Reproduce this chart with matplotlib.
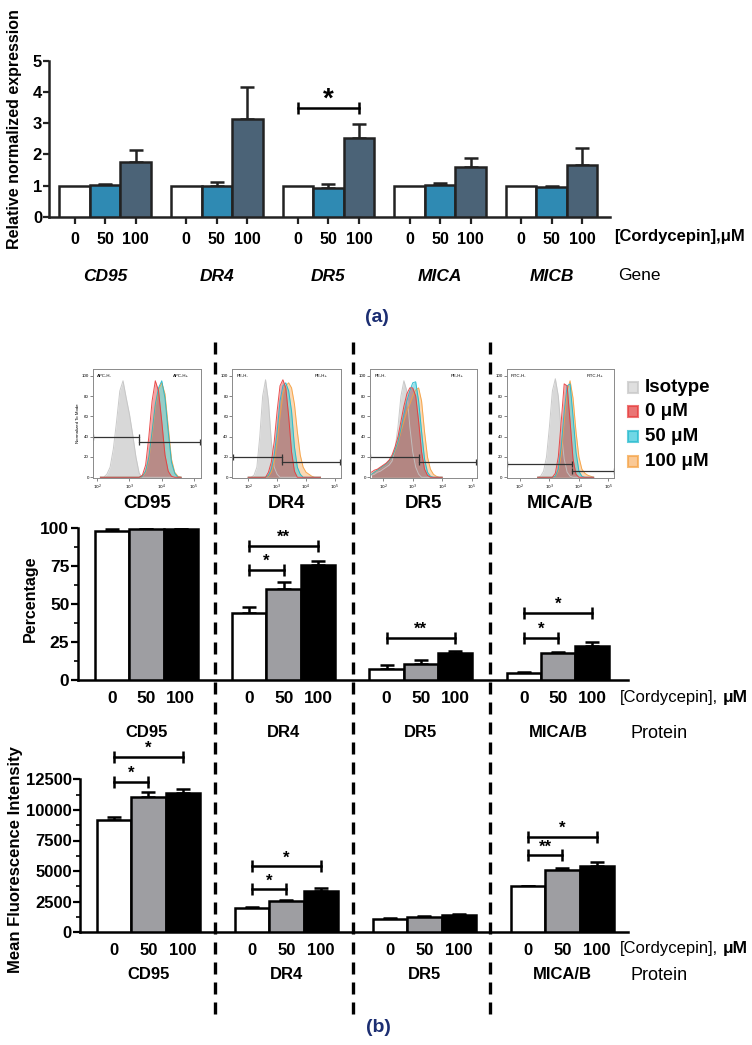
import matplotlib
matplotlib.use("Agg")
import matplotlib.pyplot as plt
from matplotlib.patches import Rectangle

plt.rcParams['font.family'] = ['Liberation Sans', 'DejaVu Sans']

W, H = 752, 1045

# ---- (a) qPCR data ----
doses = ["0", "50", "100"]
genes = ["CD95", "DR4", "DR5", "MICA", "MICB"]
gene_mean = [[1.0, 1.02, 1.75], [1.0, 1.0, 3.15], [1.0, 0.93, 2.52], [1.0, 1.03, 1.58], [1.0, 0.95, 1.67]]
gene_err = [[0, 0.02, 0.38], [0, 0.11, 1.0], [0, 0.13, 0.46], [0, 0.04, 0.32], [0, 0.02, 0.54]]
gene_sig = [(2, 0, 2, 3.5, "*")]  # group, bar i, bar j, height, label

# ---- (b) flow cytometry data ----
proteins = ["CD95", "DR4", "DR5", "MICA/B"]
pct_mean = [[98.5, 99.3, 99.3], [44, 60, 75.5], [7.5, 10.5, 18], [4.4, 17.6, 22.4]]
pct_err = [[1.2, 0.3, 0.3], [4.3, 4.8, 2.9], [2.5, 2.7, 1.2], [1.0, 0.9, 2.9]]
pct_sig = [(1, 0, 1, 72.5, "*"), (1, 0, 2, 88.3, "**"), (2, 0, 2, 27.9, "**"),
           (3, 0, 1, 27.9, "*"), (3, 0, 2, 44.4, "*")]
mfi_mean = [[9150, 11080, 11400], [2010, 2560, 3400], [1090, 1270, 1410], [3780, 5050, 5400]]
mfi_err = [[300, 360, 300], [40, 50, 190], [40, 60, 50], [30, 190, 330]]
mfi_sig = [(0, 0, 1, 12300, "*"), (0, 0, 2, 14350, "*"), (1, 0, 1, 3500, "*"),
           (1, 0, 2, 5400, "*"), (3, 0, 1, 6300, "**"), (3, 0, 2, 7800, "*")]

# histogram curves, x = log10 fluorescence, y = % of mode
cd95_x = [2.1, 2.2, 2.3, 2.4, 2.5, 2.6, 2.7, 2.8, 2.9, 3.0, 3.1, 3.2, 3.3, 3.4, 3.5, 3.6, 3.7, 3.8, 3.9, 4.0, 4.1, 4.2, 4.3, 4.4, 4.5, 4.6]
cd95_iso = [0, 0, 3, 10, 28, 55, 85, 95, 78, 62, 42, 20, 4, 0, 0, 0, 0, 0, 0, 0, 0, 0, 0, 0, 0, 0]
cd95_0 = [0, 0, 0, 0, 0, 0, 0, 0, 0, 0, 0, 0, 0, 2, 12, 40, 75, 95, 85, 55, 22, 6, 1, 0, 0, 0]
cd95_50 = [0, 0, 0, 0, 0, 0, 0, 0, 0, 0, 0, 0, 0, 1, 6, 20, 45, 72, 88, 95, 78, 45, 15, 4, 0, 0]
cd95_100 = [0, 0, 0, 0, 0, 0, 0, 0, 0, 0, 0, 0, 0, 1, 5, 18, 42, 70, 86, 93, 82, 50, 18, 5, 1, 0]

dr4_x = [2.0, 2.1, 2.2, 2.3, 2.4, 2.5, 2.6, 2.7, 2.8, 2.9, 3.0, 3.1, 3.2, 3.3, 3.4, 3.5, 3.6, 3.7, 3.8, 3.9, 4.0, 4.1, 4.2, 4.3, 4.4, 4.5]
dr4_iso = [0, 0, 2, 10, 40, 80, 96, 75, 35, 10, 3, 0, 0, 0, 0, 0, 0, 0, 0, 0, 0, 0, 0, 0, 0, 0]
dr4_0 = [0, 0, 0, 0, 0, 0, 0, 5, 15, 35, 65, 90, 96, 88, 60, 25, 6, 0, 0, 0, 0, 0, 0, 0, 0, 0]
dr4_50 = [0, 0, 0, 0, 0, 0, 0, 2, 8, 22, 45, 75, 90, 93, 85, 65, 30, 10, 3, 0, 0, 0, 0, 0, 0, 0]
dr4_100 = [0, 0, 0, 0, 0, 0, 0, 1, 5, 15, 35, 60, 82, 90, 93, 88, 72, 45, 22, 10, 5, 3, 1, 0, 0, 0]

dr5_x = [1.6, 1.7, 1.8, 1.9, 2.0, 2.1, 2.2, 2.3, 2.4, 2.5, 2.6, 2.7, 2.8, 2.9, 3.0, 3.1, 3.2, 3.3, 3.4, 3.5, 3.6, 3.7, 3.8, 3.9, 4.0]
dr5_iso = [2, 3, 5, 6, 8, 10, 12, 16, 28, 50, 80, 95, 85, 50, 25, 10, 3, 0, 0, 0, 0, 0, 0, 0, 0]
dr5_0 = [5, 7, 8, 10, 12, 14, 17, 22, 30, 40, 55, 70, 82, 88, 88, 80, 55, 25, 8, 2, 0, 0, 0, 0, 0]
dr5_50 = [3, 5, 7, 9, 11, 13, 16, 20, 27, 35, 48, 62, 75, 85, 93, 94, 75, 45, 18, 5, 1, 0, 0, 0, 0]
dr5_100 = [3, 5, 7, 9, 11, 13, 16, 20, 26, 34, 45, 55, 65, 72, 80, 86, 88, 75, 45, 20, 8, 3, 1, 0, 0]

mic_x = [2.6, 2.7, 2.8, 2.9, 3.0, 3.1, 3.2, 3.3, 3.4, 3.5, 3.6, 3.7, 3.8, 3.9, 4.0, 4.1, 4.2, 4.3, 4.4, 4.5]
mic_iso = [0, 1, 6, 20, 50, 85, 97, 80, 45, 18, 5, 1, 0, 0, 0, 0, 0, 0, 0, 0]
mic_0 = [0, 0, 0, 0, 0, 0, 4, 20, 55, 92, 90, 55, 18, 3, 0, 0, 0, 0, 0, 0]
mic_50 = [0, 0, 0, 0, 0, 0, 1, 8, 30, 65, 90, 92, 60, 25, 6, 1, 0, 0, 0, 0]
mic_100 = [0, 0, 0, 0, 0, 0, 1, 6, 22, 55, 85, 95, 78, 45, 20, 8, 4, 2, 1, 0]

hist_x = [cd95_x, dr4_x, dr5_x, mic_x]
hist_curves = [[cd95_iso, cd95_100, cd95_50, cd95_0], [dr4_iso, dr4_100, dr4_50, dr4_0],
               [dr5_iso, dr5_100, dr5_50, dr5_0], [mic_iso, mic_100, mic_50, mic_0]]
hist_gates = [(40, 3.3, 35), (20, 3.18, 15), (20, 3.2, 15), (13, 3.77, 6)]
hist_gate_names = ["APC-H", "PE-H", "PE-H", "FITC-H"]
legend_labels = ["Isotype", "0 μM", "50 μM", "100 μM"]

# ---- styles ----
gene_colors = ["white", "#2f8ab3", "#4b6377"]
prot_colors = ["white", "#9e9ea2", "black"]
hist_face = ["#d2d2d2", "#f9b36a", "#35c6da", "#e23a3a"]
hist_edge = ["#c4c4c4", "#f5a040", "#20b8cc", "#e83a3a"]
hist_alpha = [0.85, 0.5, 0.5, 0.45]
navy = "#1c2e72"

fig = plt.figure(figsize=(W / 100, H / 100), dpi=100)


def add_axes_px(left, top, right, bottom):
    return fig.add_axes([left / W, 1 - bottom / H, (right - left) / W, (bottom - top) / H])


def bracket(ax, x1, x2, y, label, size, off):
    ax.plot([x1, x2], [y, y], color="black", lw=1.8, marker="|", markersize=9,
            mew=1.8, clip_on=False, zorder=5)
    ax.annotate(label, xy=((x1 + x2) / 2, y), xytext=(0, off), textcoords="offset points",
                ha="center", va="center", fontsize=size, fontweight="bold", annotation_clip=False)


def bar_panel(ax, means, errs, colors, gap, edge, lw):
    centers = []
    for g in range(len(means)):
        for j in range(3):
            x = g * gap + j + 0.5
            centers.append(x)
            ax.bar(x, means[g][j], width=1, color=colors[j], edgecolor=edge, lw=lw, zorder=3)
            if errs[g][j] > 0:
                ax.errorbar(x, means[g][j], yerr=[[0], [errs[g][j]]], color=edge, capsize=5,
                            elinewidth=lw, capthick=lw, zorder=2)
    for s in ["top", "right"]:
        ax.spines[s].set_visible(False)
    for s in ["left", "bottom"]:
        ax.spines[s].set_linewidth(lw)
        ax.spines[s].set_color(edge)
    return centers


# ---- (a) ----
ax = add_axes_px(49, 61, 610, 216.7)
gap_a = 3.66
centers = bar_panel(ax, gene_mean, gene_err, gene_colors, gap_a, "#222222", 1.8)
ax.set_xlim(-0.34, 18.05)
ax.set_ylim(0, 5)
ax.set_yticks(range(6))
ax.set_xticks(centers)
ax.set_xticklabels(doses * len(genes))
ax.tick_params(axis="x", length=5, width=1.6, color="#222222", pad=6, labelsize=11.5)
ax.tick_params(axis="y", length=4, width=1.6, color="#222222", pad=1, labelsize=12)
for t in ax.get_xticklabels() + ax.get_yticklabels():
    t.set_fontweight("bold")
for g, gene in enumerate(genes):
    ax.text(g * gap_a + 1.5, -0.385, gene, transform=ax.get_xaxis_transform(), ha="center",
            va="center", fontsize=12.5, fontweight="bold", style="italic")
for g, i, j, y, lab in gene_sig:
    bracket(ax, g * gap_a + i + 0.5, g * gap_a + j + 0.5, y, lab, 20, 6)

# ---- (b) histograms ----
hist_boxes = [(93, 200.5), (232.3, 340.7), (370, 476.7), (506.7, 614)]
hist_xlims = [(1.87, 5.2), (1.45, 5.2), (1.55, 5.17), (1.55, 5.19)]
for k, (l, r) in enumerate(hist_boxes):
    hx = add_axes_px(l, 369, r, 478.3)
    for c in range(4):
        hx.fill_between(hist_x[k], hist_curves[k][c], color=hist_face[c], alpha=hist_alpha[c], lw=0)
        hx.plot(hist_x[k], hist_curves[k][c], color=hist_edge[c], lw=0.7, alpha=0.9)
    gl, split, gr = hist_gates[k]
    x0, x1 = hist_xlims[k]
    hx.plot([x0 + 0.01, split], [gl, gl], color="#333333", lw=0.9, marker="|", markersize=4, mew=0.9)
    hx.plot([split, x1 - 0.01], [gr, gr], color="#333333", lw=0.9, marker="|", markersize=4, mew=0.9)
    hx.text(0.04, 0.95, hist_gate_names[k] + "-", transform=hx.transAxes, fontsize=3.2, va="top")
    hx.text(0.82, 0.95, hist_gate_names[k] + "+", transform=hx.transAxes, fontsize=3.2, va="top", ha="center")
    hx.set_xlim(x0, x1)
    hx.set_ylim(-1, 106.6)
    hx.set_yticks([0, 20, 40, 60, 80, 100])
    hx.set_xticks([2, 3, 4, 5])
    hx.set_xticklabels(["$10^2$", "$10^3$", "$10^4$", "$10^5$"])
    hx.tick_params(labelsize=3.2, length=2, width=0.5, pad=1, color="#555555")
    for s in hx.spines.values():
        s.set_color("#8a8a8a")
        s.set_linewidth(0.7)
    if k == 0:
        hx.set_ylabel("Normalized To Mode", fontsize=3.2, labelpad=1)
    hx.text(0.5, -0.226, proteins[k], transform=hx.transAxes, ha="center", va="center",
            fontsize=13.5, fontweight="bold")

# ---- (b) percentage ----
gap_b = 4
ax = add_axes_px(77.7, 528.3, 628, 680)
centers = bar_panel(ax, pct_mean, pct_err, prot_colors, gap_b, "black", 1.8)
ax.set_xlim(-0.504, 15.54)
ax.set_ylim(0, 100)
ax.set_yticks([0, 25, 50, 75, 100])
ax.set_yticks([12.5, 37.5, 62.5, 87.5], minor=True)
ax.set_xticks(centers)
ax.set_xticklabels(doses * len(proteins))
ax.tick_params(axis="x", length=0, pad=8, labelsize=12.5)
ax.tick_params(axis="y", which="major", length=5, width=1.6, pad=1, labelsize=12.5)
ax.tick_params(axis="y", which="minor", length=3, width=1.2)
for t in ax.get_xticklabels() + ax.get_yticklabels():
    t.set_fontweight("bold")
for g, p in enumerate(proteins):
    ax.text(g * gap_b + 1.5, -0.349, p, transform=ax.get_xaxis_transform(), ha="center",
            va="center", fontsize=12, fontweight="bold")
for g, i, j, y, lab in pct_sig:
    bracket(ax, g * gap_b + i + 0.5, g * gap_b + j + 0.5, y, lab, 12, 6)

# ---- (b) MFI ----
ax = add_axes_px(80, 779.3, 628, 932.3)
centers = bar_panel(ax, mfi_mean, mfi_err, prot_colors, gap_b, "black", 1.8)
ax.set_xlim(-0.484, 15.4)
ax.set_ylim(0, 12500)
ax.set_yticks([0, 2500, 5000, 7500, 10000, 12500])
ax.set_yticks([1250, 3750, 6250, 8750, 11250], minor=True)
ax.set_xticks(centers)
ax.set_xticklabels(doses * len(proteins))
ax.tick_params(axis="x", length=0, pad=8, labelsize=12)
ax.tick_params(axis="y", which="major", length=5, width=1.6, pad=1, labelsize=12)
ax.tick_params(axis="y", which="minor", length=3, width=1.2)
for t in ax.get_xticklabels() + ax.get_yticklabels():
    t.set_fontweight("bold")
for g, p in enumerate(proteins):
    ax.text(g * gap_b + 1.5, -0.279, p, transform=ax.get_xaxis_transform(), ha="center",
            va="center", fontsize=12, fontweight="bold")
for g, i, j, y, lab in mfi_sig:
    bracket(ax, g * gap_b + i + 0.5, g * gap_b + j + 0.5, y, lab, 12, 6)

# ---- overlay in pixel coordinates ----
ov = fig.add_axes([0, 0, 1, 1])
ov.set_xlim(0, W)
ov.set_ylim(H, 0)
ov.axis("off")
ov.patch.set_visible(False)

for xd in [214.5, 352.5, 489.5]:
    ov.plot([xd, xd], [342, 1017], color="black", lw=2.4, ls=(0, (3.6, 2.4)))

ov.text(15, 129, "Relative normalized expression", rotation=90, ha="center", va="center",
        fontsize=11.5, fontweight="bold")
ov.text(30, 599, "Percentage", rotation=90, ha="center", va="center", fontsize=11.5, fontweight="bold")
ov.text(16, 860, "Mean Fluorescence Intensity", rotation=90, ha="center", va="center",
        fontsize=12, fontweight="bold")

ov.text(614, 236, "[Cordycepin],μM", ha="left", va="center", fontsize=12, fontweight="bold")
ov.text(618, 276, "Gene", ha="left", va="center", fontsize=12.5)
for yy in [697.3, 948.3]:
    ov.text(620, yy, "[Cordycepin],", ha="left", va="center", fontsize=12)
    ov.text(748, yy, "μM", ha="right", va="center", fontsize=12.5, fontweight="bold")
ov.text(630, 733, "Protein", ha="left", va="center", fontsize=13)
ov.text(630, 975, "Protein", ha="left", va="center", fontsize=13)

ov.text(377, 317, "(a)", ha="center", va="center", fontsize=14, fontweight="bold", color=navy)
ov.text(378, 1028, "(b)", ha="center", va="center", fontsize=14, fontweight="bold", color=navy)

for r, lab in enumerate(legend_labels):
    yy = 387 + r * 24.7
    c = [0, 3, 2, 1][r]
    ov.add_patch(Rectangle((628, yy - 5.5), 10, 11, facecolor=hist_face[c], alpha=0.7,
                           edgecolor=hist_edge[c], lw=1.5))
    ov.text(645, yy, lab, ha="left", va="center", fontsize=13.5, fontweight="bold")

fig.savefig("out.png", dpi=100)
